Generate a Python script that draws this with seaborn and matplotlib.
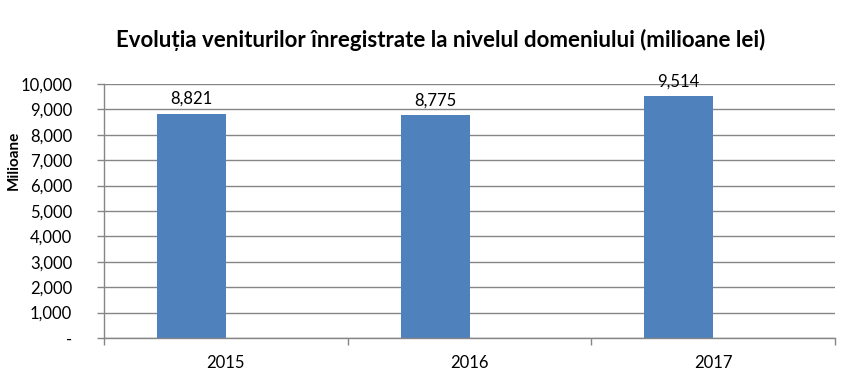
import matplotlib
matplotlib.use("Agg")
import matplotlib.pyplot as plt
import seaborn as sns
import pandas as pd
from matplotlib.ticker import FuncFormatter, MultipleLocator

years = ["2015", "2016", "2017"]
values = [8821, 8775, 9514]
title = "Evoluția veniturilor înregistrate la nivelul domeniului (milioane lei)"
ylabel = "Milioane"

sns.set_theme(style="white")
plt.rcParams["font.family"] = ["Lato", "DejaVu Sans"]

# second (empty) series reproduces the clustered-bar offset of the original
df = pd.DataFrame({
    "year": years * 2,
    "value": values + [0, 0, 0],
    "series": ["a"] * 3 + ["b"] * 3,
})

fig = plt.figure(figsize=(8.55, 3.83), dpi=100)
ax = fig.add_axes([104 / 855, 1 - 338 / 383, (835 - 104) / 855, (338 - 84) / 383])

sns.barplot(data=df, x="year", y="value", hue="series", hue_order=["a", "b"],
            palette=["#4F81BD", "#C0504D"], width=0.565, dodge=True,
            linewidth=0, legend=False, ax=ax, saturation=1)

ax.set_ylim(0, 10000)
ax.set_xlim(-0.5, 2.5)
ax.yaxis.set_major_locator(MultipleLocator(1000))
ax.yaxis.set_major_formatter(FuncFormatter(lambda v, p: "-" if v == 0 else f"{v:,.0f}"))
ax.grid(axis="y", color="#868686", linewidth=1)
ax.set_axisbelow(True)

for s in ["top", "right"]:
    ax.spines[s].set_visible(False)
for s in ["left", "bottom"]:
    ax.spines[s].set_color("#868686")
    ax.spines[s].set_linewidth(1)

ax.tick_params(axis="y", length=5, color="#868686", width=1, left=True,
               labelsize=12, pad=18, labelcolor="black")
ax.set_xticks([0, 1, 2])
ax.set_xticklabels(years, fontsize=12, color="black")
ax.set_xticks([-0.5, 0.5, 1.5, 2.5], minor=True)
ax.tick_params(axis="x", which="major", length=0, pad=12)
ax.tick_params(axis="x", which="minor", length=5, color="#868686", width=1, bottom=True)

ax.set_xlabel("")
ax.set_ylabel("")
fig.text(14 / 855, 1 - 160 / 383, ylabel, rotation=90, ha="center", va="center",
         fontsize=11, fontweight="bold", color="black")

for p, v in zip(ax.patches[:3], values):
    ax.annotate(f"{v:,}", (p.get_x() + p.get_width() / 2, v),
                xytext=(0, 5), textcoords="offset points",
                ha="center", va="bottom", fontsize=12, color="black")

fig.text(441 / 855, 1 - 40 / 383, title, ha="center", va="center",
         fontsize=16, fontweight="bold", color="black")

fig.savefig("out.png", dpi=100, facecolor="white")
